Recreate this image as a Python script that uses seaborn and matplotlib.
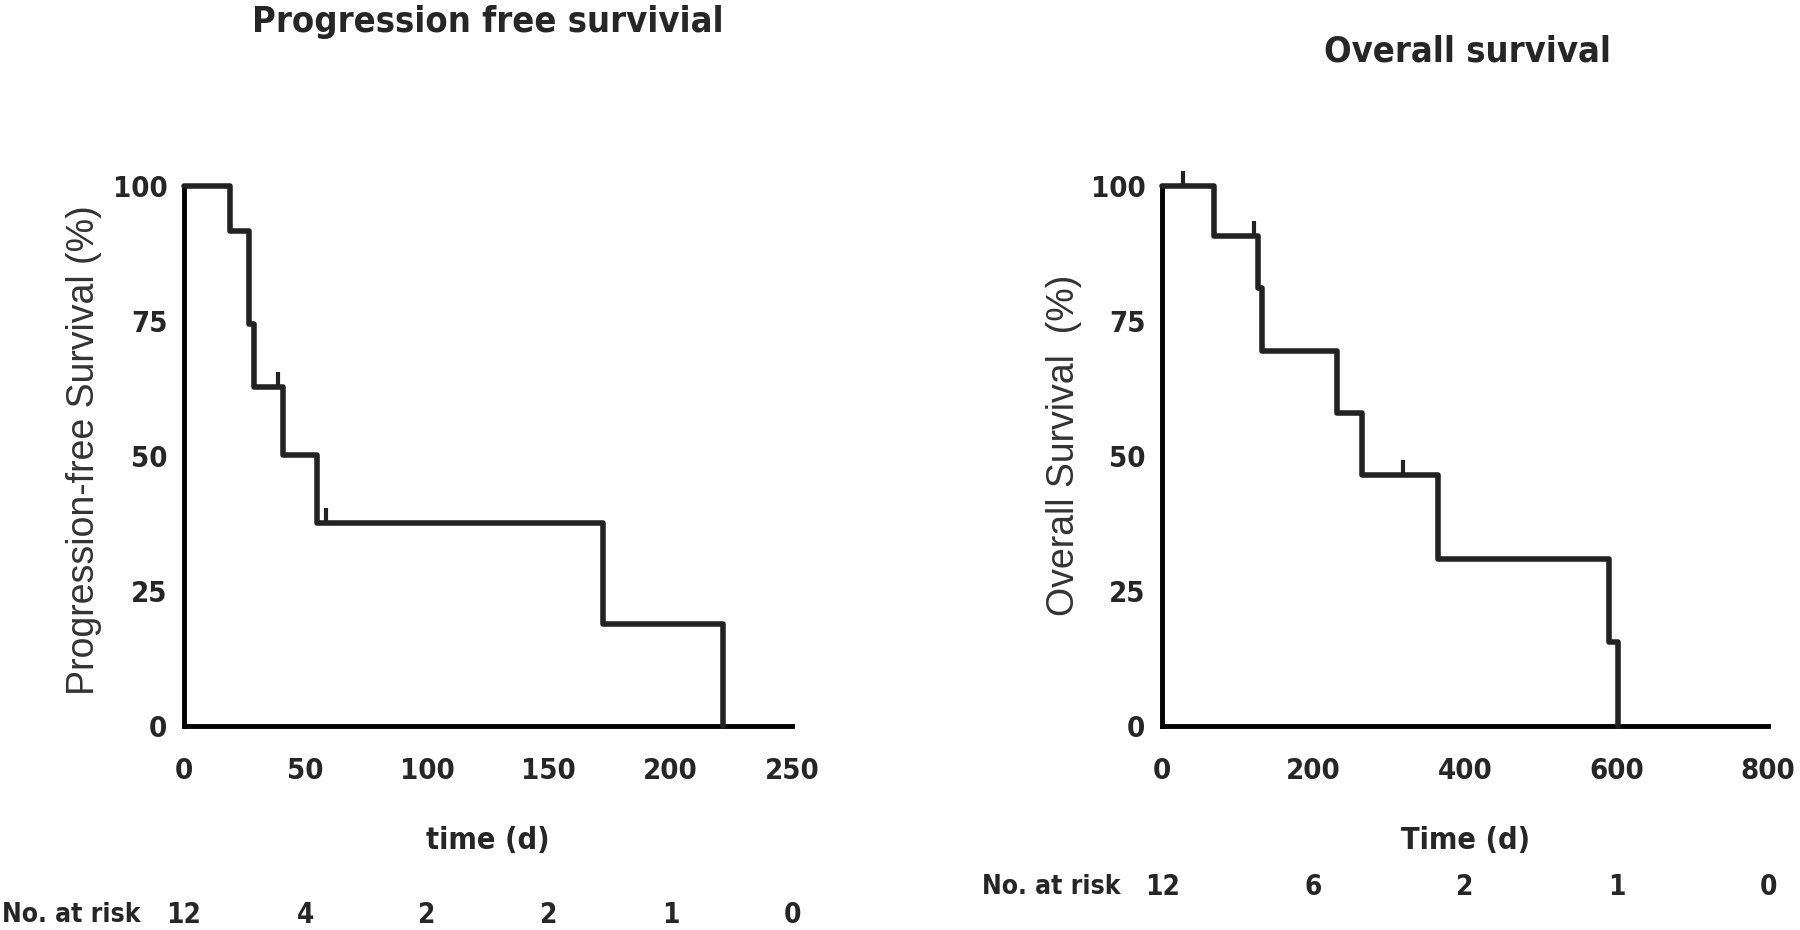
import numpy as np
import pandas as pd
import matplotlib
matplotlib.use("Agg")
import matplotlib.pyplot as plt
import seaborn as sns
from matplotlib.path import Path

# --- datos ---
pfs_time = [0, 18.9, 26.8, 28.8, 40.6, 54.7, 172.4, 221.8]
pfs_surv = [100, 91.7, 74.5, 62.7, 50.2, 37.6, 18.8, 0]
pfs_cens_time = [38.8, 58.5]
pfs_cens_surv = [62.7, 37.6]
pfs_risk_time = [0, 50, 100, 150, 200, 250]
pfs_risk_n = [12, 4, 2, 2, 1, 0]

os_time = [0, 68.6, 127, 132, 231, 264, 364, 590, 602]
os_surv = [100, 90.8, 81.2, 69.4, 58.0, 46.4, 30.9, 15.5, 0]
os_cens_time = [28, 121, 318]
os_cens_surv = [100, 90.8, 46.4]
os_risk_time = [0, 200, 400, 600, 800]
os_risk_n = [12, 6, 2, 1, 0]

sns.set_style("white")
plt.rcParams['font.family'] = ['DejaVu Sans']
plt.rcParams['font.stretch'] = 'condensed'

line_col = '#222222'
cens_marker = Path([(0, 0), (0, 1)])

fig = plt.figure(figsize=(18, 9.3), dpi=100)
ax1 = fig.add_axes([0.1022, 0.2194, 0.3378, 0.5806])
ax2 = fig.add_axes([0.6456, 0.2194, 0.3367, 0.5806])


def km_panel(ax, t, s, ct, cs, xmax, xstep, xlabel, ylabel, risk_t, risk_n, risk_y):
    df = pd.DataFrame({'t': t, 's': s})
    sns.lineplot(data=df, x='t', y='s', ax=ax, drawstyle='steps-post', estimator=None,
                 sort=False, color=line_col, linewidth=4, clip_on=False, zorder=5)
    ax.plot(ct, cs, linestyle='none', marker=cens_marker, markersize=22,
            markeredgewidth=3, color=line_col, clip_on=False, zorder=6)
    ax.set_xlim(0, xmax)
    ax.set_ylim(0, 100)
    ax.set_xticks(np.arange(0, xmax + 1, xstep))
    ax.set_yticks([0, 25, 50, 75, 100])
    for side in ['top', 'right']:
        ax.spines[side].set_visible(False)
    for side in ['left', 'bottom']:
        ax.spines[side].set_linewidth(3.5)
        ax.spines[side].set_color('black')
        ax.spines[side].set_zorder(4)
    ax.tick_params(axis='x', length=13, width=3.2, pad=9, labelsize=21)
    ax.tick_params(axis='y', length=11, width=3.2, pad=1, labelsize=21)
    for lab in ax.get_xticklabels() + ax.get_yticklabels():
        lab.set_fontweight('bold')
    ax.set_xlabel(xlabel, fontsize=22, fontweight='bold', labelpad=30)
    ax.set_ylabel(ylabel, fontsize=27, family=['Liberation Sans', 'DejaVu Sans'],
                  fontstretch='normal', color='#333333')
    trans = ax.get_xaxis_transform()
    for x, n in zip(risk_t, risk_n):
        ax.text(x, risk_y, str(n), transform=trans, ha='center', va='center',
                fontsize=20, fontweight='bold', clip_on=False)


km_panel(ax1, pfs_time, pfs_surv, pfs_cens_time, pfs_cens_surv, 250, 50,
         'time (d)', 'Progression-free Survival (%)', pfs_risk_time, pfs_risk_n, -0.35)
km_panel(ax2, os_time, os_surv, os_cens_time, os_cens_surv, 800, 200,
         'Time (d)', 'Overall Survival  (%)', os_risk_time, os_risk_n, -0.298)

ax1.yaxis.set_label_coords(-0.135, 0.51)
ax2.yaxis.set_label_coords(-0.132, 0.52)

fig.text(0.001, 1 - 915 / 930, 'No. at risk', ha='left', va='center', fontsize=19, fontweight='bold')
fig.text(1120 / 1800, 1 - 887 / 930, 'No. at risk', ha='right', va='center', fontsize=19, fontweight='bold')

fig.text(488 / 1800, 1 - 22 / 930, 'Progression free survivial', ha='center', va='center',
         fontsize=26, fontweight='bold')
fig.text(1467 / 1800, 1 - 52 / 930, 'Overall survival', ha='center', va='center',
         fontsize=26, fontweight='bold')

fig.savefig('out.png', dpi=100)
